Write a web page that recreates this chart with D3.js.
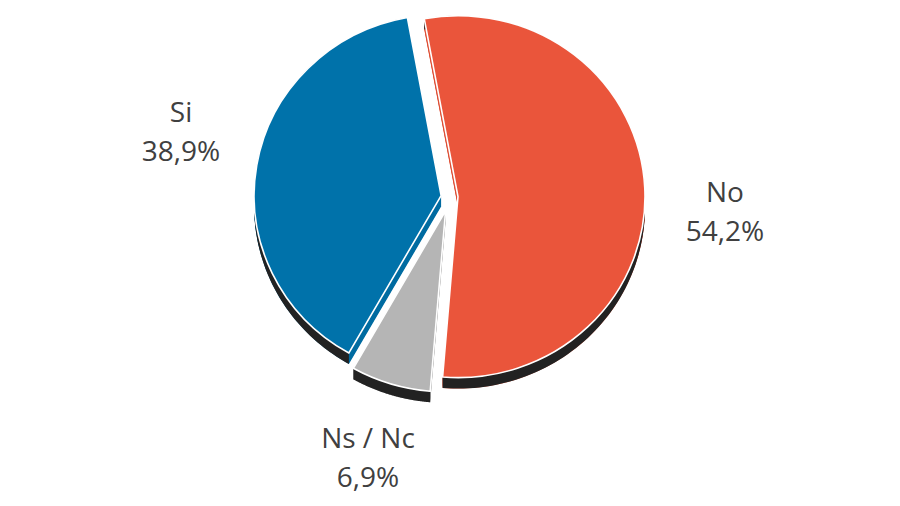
<!DOCTYPE html>
<html>
<head>
<meta charset="utf-8">
<script src="https://cdn.jsdelivr.net/npm/d3@7"></script>
<style>
  html, body { margin: 0; padding: 0; background: #fff; }
  svg { display: block; }
</style>
</head>
<body>
<svg id="chart" width="900" height="506"></svg>
<script>
const categories = ["No", "Ns / Nc", "Si"];
const values = [54.2, 6.9, 38.9];
const valueLabels = ["54,2%", "6,9%", "38,9%"];
const colors = ["#EA553B", "#B5B5B5", "#0072AA"];

const W = 900, H = 506;
const cx = 450, cy = 197;
const rx = 187, ry = 181;
const k = ry / rx;
const thick = 11;
const explode = { "No": 8, "Ns / Nc": 15, "Si": 9 };
const labelPos = {
  "No": [725, 202],
  "Ns / Nc": [368, 448],
  "Si": [181, 122]
};

const svg = d3.select("#chart");
const startA = -10.4 * Math.PI / 180;
const pie = d3.pie().sort(null).value(d => d.v)
  .startAngle(startA).endAngle(startA + 2 * Math.PI);
const data = categories.map((c, i) => ({ c, v: values[i], lab: valueLabels[i], col: colors[i] }));
const arcs = pie(data);
const arc = d3.arc().innerRadius(0).outerRadius(rx);

arcs.forEach(a => {
  const mid = (a.startAngle + a.endAngle) / 2;
  const d = explode[a.data.c];
  a.ox = cx + d * Math.sin(mid);
  a.oy = cy - d * Math.cos(mid) * k;
});

const sides = svg.append("g");
const faces = svg.append("g");

const line = d3.line();
arcs.forEach(a => {
  for (let t = thick; t >= 1; t--) {
    sides.append("path")
      .attr("d", arc(a))
      .attr("transform", `translate(${a.ox},${a.oy + t}) scale(1,${k})`)
      .attr("fill", d3.color(a.data.col).darker(0.15));
  }
  const n = 120;
  const angs = d3.range(n + 1).map(i => a.startAngle + (a.endAngle - a.startAngle) * i / n);
  const top = angs.map(t => [a.ox + rx * Math.sin(t), a.oy - ry * Math.cos(t)]);
  const bot = angs.slice().reverse().map(t => [a.ox + rx * Math.sin(t), a.oy - ry * Math.cos(t) + thick]);
  sides.append("path")
    .attr("d", line(top.concat(bot)) + "Z")
    .attr("fill", "#222");
});

arcs.forEach(a => {
  faces.append("path")
    .attr("d", arc(a))
    .attr("transform", `translate(${a.ox},${a.oy}) scale(1,${k})`)
    .attr("fill", a.data.col)
    .attr("stroke", "#fff")
    .attr("stroke-width", 1.6)
    .attr("vector-effect", "non-scaling-stroke")
    .attr("stroke-linejoin", "miter");
});

const labels = svg.append("g")
  .attr("font-family", "'Open Sans', sans-serif")
  .attr("font-size", 28)
  .attr("fill", "#404040")
  .attr("text-anchor", "middle");

arcs.forEach(a => {
  const [x, y] = labelPos[a.data.c];
  labels.append("text").attr("x", x).attr("y", y).text(a.data.c);
  labels.append("text").attr("x", x).attr("y", y + 39).text(a.data.lab);
});
</script>
</body>
</html>
